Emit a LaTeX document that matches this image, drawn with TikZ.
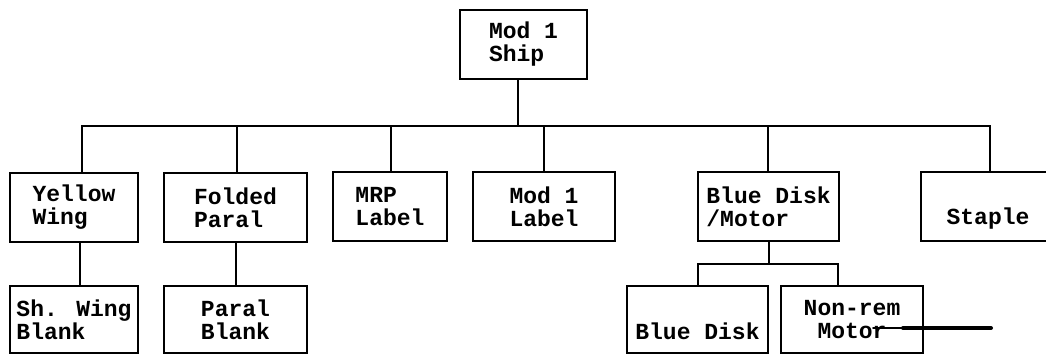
\documentclass[tikz,border=0pt]{standalone}
\usepackage{fontspec}
\usepackage{tikz}
\newfontfamily\shmono{Liberation Mono}
\tikzset{
  shbox/.style={draw=black, line width=2pt, rectangle, align=left, inner sep=0pt, minimum height=69pt, font=\shmono\bfseries\fontsize{23}{23}\selectfont},
  shlow/.style={shbox, minimum height=67pt},
  shlink/.style={line width=2pt, draw=black},
  shpoint/.style={line width=2pt, draw=black, line cap=round}
}
\begin{document}
\begin{tikzpicture}[x=1pt, y=-1pt]
  \useasboundingbox (0,0) rectangle (1046,355);
  \node[shbox, minimum width=127pt] (root) at (523.5,44.5) {Mod 1\\Ship};
  \node[shbox, minimum width=128pt] (yellow) at (74,207.5) {Yellow\\Wing};
  \node[shbox, minimum width=143pt] (folded) at (235.5,207.5) {Folded\\Paral};
  \node[shbox, minimum width=114pt] (mrp) at (390,207) {MRP\\Label};
  \node[shbox, minimum width=142pt] (modlabel) at (544,207) {Mod 1\\Label};
  \node[shbox, minimum width=141pt] (bluemotor) at (768.5,206.5) {Blue Disk\\/Motor};
  \node[shbox, minimum width=134pt] (staple) at (988,206.5) {\strut\\Staple};
  \node[shlow, minimum width=128pt] (shwing) at (74,319.5) {Sh. Wing\\Blank};
  \node[shlow, minimum width=143pt] (paralblank) at (235.5,319.5) {Paral\\Blank};
  \node[shlow, minimum width=141pt] (bluedisk) at (697.5,319.5) {\strut\\Blue Disk};
  \node[shlow, minimum width=142pt, align=center] (nonrem) at (852,319.5) {Non-rem\\Motor};
  \foreach \c/\s in {yellow/8,folded/1,mrp/1,modlabel/0,bluemotor/-1,staple/2}
    \draw[shlink] ([xshift=-6pt]root.south) -- ++(0,46) -| ([xshift=\s pt]\c.north);
  \draw[shlink] ([xshift=6pt]yellow.south) -- ([xshift=6pt]shwing.north);
  \draw[shlink] (folded) -- (paralblank);
  \draw[shlink] (bluemotor.south) -- ++(0,22) -| (bluedisk.north);
  \draw[shlink] (bluemotor.south) -- ++(0,22) -| ([xshift=-14pt]nonrem.north);
  \coordinate (motorend) at (873,328);
  \coordinate (tip) at (991,328);
  \draw[shpoint] (motorend) -- (tip);
  \draw[shpoint, line width=4pt] (tip) -- ++(-88,0);
\end{tikzpicture}
\end{document}
